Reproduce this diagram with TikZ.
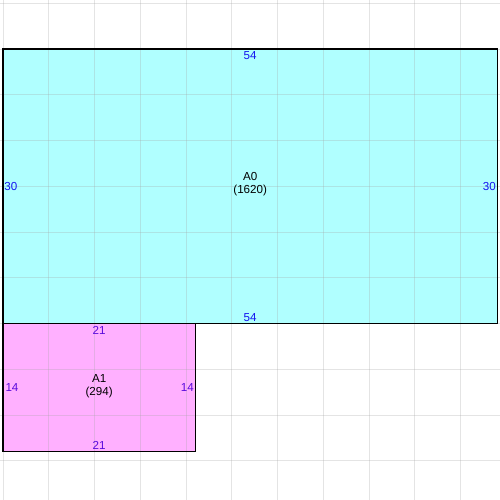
\documentclass[tikz,border=0pt]{standalone}
\usepackage{fontspec}
\setmainfont{Liberation Sans}
\usetikzlibrary{positioning}

\definecolor{sheetcyan}{RGB}{176,255,255}
\definecolor{sheetpink}{RGB}{255,176,255}
\definecolor{dimblue}{RGB}{20,20,240}
\definecolor{dimviolet}{RGB}{90,10,220}

\begin{document}
\begin{tikzpicture}[x=0.18cm, y=-0.18cm, font=\fontsize{6.5}{7.4}\selectfont,
  dim/.style={inner sep=1.2pt},
  sheet/.style={draw=black, line width=0.6pt}]

\useasboundingbox (-0.328,-5.352) rectangle (54.29,49.26);

% sheets
\fill[sheetcyan] (0,0) rectangle (54,30);
\fill[sheetpink] (0,30) rectangle (21,44);

% grid
\foreach \gx in {0,5,...,50}
  \draw[black!35, opacity=0.3, line width=0.55pt] (\gx,-5.352) -- (\gx,49.26);
\foreach \gy in {-5,0,...,45}
  \draw[black!35, opacity=0.3, line width=0.55pt] (-0.328,\gy) -- (54.29,\gy);

% A0
\draw[sheet] (0,0) rectangle (54,30);
\node[dim, dimblue, below] (a0top) at (27,0) {54};
\node[dim, dimblue, above] (a0bot) at (27,30) {54};
\node[dim, dimblue, right, inner sep=0.6pt] (a0left) at (0,15) {30};
\node[dim, dimblue, left, inner sep=0.6pt] (a0right) at (54,15) {30};
\node[align=center] (a0) at (27,14.8) {A0\\(1620)};

% A1
\draw[sheet] (0,30) rectangle (21,44);
\node[dim, dimviolet, below] (a1top) at (10.5,30) {21};
\node[dim, dimviolet, above] (a1bot) at (10.5,44) {21};
\node[dim, dimviolet, right] (a1left) at (0,37) {14};
\node[dim, dimviolet, left, inner sep=0.6pt] (a1right) at (21,37) {14};
\node[align=center] (a1) at (10.5,36.8) {A1\\(294)};
\end{tikzpicture}
\end{document}
